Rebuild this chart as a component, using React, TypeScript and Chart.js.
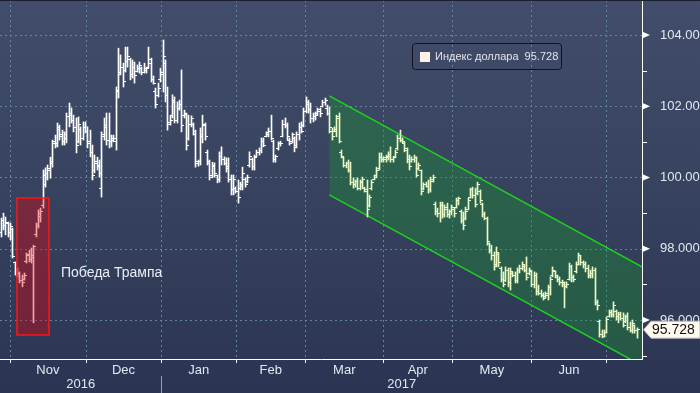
import React, { useEffect, useRef } from 'react';
import { Chart, registerables } from 'chart.js';

Chart.register(...registerables);

const FONT = '"Liberation Sans", Arial, sans-serif';

// ---- data ----
const seriesName = 'Индекс доллара';
const lastValue = 95.728;
const monthLabels = ['Nov', 'Dec', 'Jan', 'Feb', 'Mar', 'Apr', 'May', 'Jun'];
// month boundaries in bar-index units (Nov 1 ... Jul 1)
const monthBoundaries = [3.83, 36.07, 68.27, 100.21, 129.6, 162.8, 192.2, 225.9, 257.8];
const yearLabels = ['2016', '2017'];
const yearBoundary = 68.27;
const xRange = [-0.43, 272.99];
const yRange = [94.905, 104.982];
const gridValues = [96, 98, 100, 102, 104];
const channelX = [139.82, 272.99];
const channelUpper = [102.29, 97.49];
const channelLower = [99.51, 94.72];
const boxX = [6.81, 20.23];
const boxY = [95.58, 99.42];
const annotationText = 'Победа Трампа';
const annotationAt = [25.55, 97.32];

const opens = [
  98.45, 98.80, 98.65, 98.70, 98.45, 98.55, 97.60, 97.40, 97.30, 97.10,
  97.15, 97.65, 97.80, 97.70, 97.80, 98.40, 98.65, 98.90, 99.20, 99.80,
  100.00, 100.20, 100.40, 101.00, 100.95, 101.35, 101.20, 101.00, 101.10, 101.70,
  101.80, 101.60, 101.40, 101.00, 101.35, 101.10, 101.40, 101.30, 101.00, 100.70,
  100.20, 100.45, 100.35, 99.70, 101.20, 101.40, 101.05, 101.00, 101.05, 101.00,
  102.45, 102.95, 103.10, 103.00, 103.25, 103.30, 102.90, 103.10, 102.98, 103.05,
  103.05, 102.95, 103.00, 103.10, 103.20, 102.75, 102.40, 102.30, 102.75, 102.90,
  103.20, 102.30, 101.55, 101.75, 102.10, 101.60, 101.95, 102.05, 101.75, 101.78,
  101.10, 101.50, 101.50, 101.20, 100.40, 100.45, 101.15, 101.45, 100.70, 100.40,
  100.05, 100.30, 100.05, 99.95, 100.60, 100.50, 100.40, 100.30, 99.95, 99.65,
  99.70, 99.60, 99.70, 99.75, 99.95, 99.90, 100.35, 100.50, 100.30, 100.60,
  100.70, 100.75, 101.00, 101.15, 101.20, 101.30, 101.00, 100.50, 100.80, 100.95,
  101.15, 101.50, 101.45, 101.05, 101.00, 101.10, 100.90, 101.20, 101.40, 101.45,
  101.85, 102.05, 101.90, 101.65, 101.70, 101.80, 101.85, 102.00, 102.10, 101.95,
  101.80, 101.30, 101.30, 101.30, 101.70, 100.70, 100.55, 100.35, 100.40, 100.20,
  99.85, 99.80, 99.90, 99.70, 99.85, 99.70, 99.60, 99.20, 99.70, 99.95,
  100.00, 100.25, 100.55, 100.50, 100.50, 100.55, 100.60, 100.50, 100.60, 100.80,
  101.10, 101.05, 100.95, 100.75, 100.50, 100.45, 100.50, 100.55, 100.25, 100.20,
  99.70, 99.80, 99.75, 99.65, 99.95, 99.25, 99.05, 99.00, 99.20, 98.95,
  99.10, 98.95, 99.05, 99.10, 99.15, 99.35, 99.05, 98.80, 98.85, 99.10,
  99.45, 99.65, 99.50, 99.55, 99.60, 99.25, 98.95, 98.85, 98.15, 97.95,
  97.80, 97.55, 97.85, 97.45, 97.15, 97.10, 97.40, 97.05, 97.30, 97.25,
  97.10, 97.40, 97.45, 97.50, 97.40, 97.30, 97.35, 97.00, 97.25, 96.80,
  96.75, 96.70, 96.65, 96.70, 96.90, 97.25, 97.35, 97.20, 97.15, 97.05,
  97.05, 96.95, 97.15, 97.50, 97.20, 97.35, 97.55, 97.80, 97.60, 97.55,
  97.45, 97.25, 97.30, 97.40, 96.50, 95.95, 95.60, 95.55, 95.65, 96.10,
  96.20, 96.15, 96.25, 96.10, 96.15, 96.05, 95.95, 96.10, 95.80, 95.70,
  95.85, 95.70,
];

const highs = [
  98.86, 99.00, 98.89, 98.75, 98.72, 98.58, 97.63, 97.46, 97.35, 97.26,
  97.32, 97.88, 97.96, 98.02, 98.10, 98.72, 99.09, 99.14, 100.21, 100.27,
  100.35, 100.57, 101.05, 101.19, 101.53, 101.47, 101.33, 101.28, 101.81, 102.09,
  101.95, 101.75, 101.67, 101.70, 101.42, 101.56, 101.56, 101.42, 101.33, 100.91,
  100.63, 100.57, 100.49, 101.28, 101.67, 101.81, 101.81, 101.19, 101.19, 102.54,
  103.63, 103.44, 103.21, 103.66, 103.66, 103.35, 103.30, 103.24, 103.16, 103.24,
  103.10, 103.21, 103.10, 103.66, 103.35, 102.85, 102.51, 102.65, 103.07, 103.86,
  103.30, 102.54, 101.75, 102.32, 102.26, 102.12, 102.17, 103.02, 101.89, 101.81,
  101.75, 101.73, 101.53, 101.33, 100.49, 101.39, 101.75, 101.53, 100.77, 100.49,
  100.43, 100.41, 100.07, 100.72, 100.86, 100.58, 100.55, 100.55, 100.07, 100.07,
  99.73, 99.93, 99.87, 100.29, 99.99, 100.07, 100.72, 100.55, 100.63, 100.77,
  100.83, 101.11, 101.11, 101.28, 101.39, 101.75, 101.05, 100.63, 101.00, 101.02,
  101.61, 101.67, 101.53, 101.11, 101.25, 101.14, 101.28, 101.53, 101.56, 101.95,
  102.26, 102.17, 102.09, 101.81, 101.84, 101.95, 101.95, 102.17, 102.23, 102.03,
  101.98, 101.39, 101.42, 101.75, 101.81, 100.77, 100.58, 100.43, 100.49, 100.43,
  99.99, 99.93, 99.99, 99.93, 100.01, 99.73, 99.93, 99.51, 99.93, 100.07,
  100.29, 100.69, 100.69, 100.58, 100.63, 100.72, 100.86, 100.58, 100.77, 101.19,
  101.33, 101.11, 101.00, 100.83, 100.63, 100.58, 100.63, 100.58, 100.41, 100.21,
  99.85, 99.87, 99.93, 100.01, 100.07, 99.31, 99.14, 99.31, 99.31, 99.23,
  99.28, 99.09, 99.23, 99.14, 99.42, 99.45, 99.09, 99.03, 99.17, 99.42,
  99.70, 99.73, 99.70, 99.87, 99.65, 99.28, 99.03, 98.89, 98.16, 98.10,
  97.91, 98.05, 97.88, 97.49, 97.35, 97.49, 97.46, 97.46, 97.35, 97.35,
  97.46, 97.54, 97.63, 97.54, 97.77, 97.46, 97.40, 97.35, 97.32, 96.98,
  96.84, 96.76, 96.79, 96.98, 97.21, 97.49, 97.38, 97.26, 97.21, 97.12,
  97.07, 97.07, 97.60, 97.54, 97.26, 97.63, 97.88, 97.82, 97.66, 97.63,
  97.54, 97.40, 97.49, 97.46, 96.56, 96.00, 95.72, 95.72, 96.08, 96.28,
  96.28, 96.51, 96.28, 96.22, 96.22, 96.20, 96.14, 96.20, 95.94, 96.00,
  95.86, 95.78,
];

const lows = [
  98.33, 98.53, 98.39, 98.33, 98.25, 97.74, 97.26, 97.21, 97.04, 96.93,
  97.12, 97.60, 97.63, 97.60, 95.92, 98.33, 98.58, 98.75, 99.14, 99.73,
  99.93, 99.98, 100.29, 100.83, 100.86, 101.05, 100.91, 100.91, 100.97, 101.42,
  101.53, 101.28, 100.69, 100.97, 100.91, 101.05, 101.25, 100.83, 100.58, 99.93,
  100.13, 100.21, 100.01, 99.45, 101.05, 100.91, 100.83, 100.86, 101.00, 100.77,
  102.23, 102.88, 102.54, 102.96, 103.10, 102.74, 102.79, 102.65, 102.96, 102.93,
  102.88, 102.93, 102.93, 103.07, 102.68, 102.62, 101.95, 102.26, 102.68, 102.40,
  102.12, 101.33, 101.47, 101.67, 101.53, 101.53, 101.89, 101.28, 101.67, 100.77,
  101.05, 101.42, 101.19, 100.29, 100.32, 100.35, 100.97, 101.05, 100.35, 99.93,
  99.99, 100.01, 99.85, 99.87, 100.35, 100.35, 100.15, 99.87, 99.51, 99.51,
  99.56, 99.28, 99.65, 99.65, 99.73, 99.85, 100.29, 100.21, 100.21, 100.58,
  100.63, 100.69, 100.86, 101.14, 101.14, 101.05, 100.43, 100.43, 100.77, 100.88,
  101.14, 101.39, 101.05, 100.91, 100.97, 100.72, 100.83, 101.05, 101.25, 101.42,
  101.81, 101.81, 101.53, 101.56, 101.61, 101.75, 101.70, 101.98, 102.03, 101.75,
  101.25, 101.05, 101.28, 101.14, 100.97, 100.55, 100.29, 100.27, 100.15, 99.79,
  99.70, 99.73, 99.65, 99.65, 99.70, 99.59, 98.89, 99.17, 99.65, 99.93,
  99.99, 100.21, 100.43, 100.43, 100.43, 100.49, 100.43, 100.43, 100.55, 100.77,
  101.00, 100.97, 100.72, 100.41, 100.21, 100.43, 100.43, 100.01, 100.21, 99.51,
  99.65, 99.73, 99.56, 99.59, 99.87, 98.95, 98.89, 98.75, 98.86, 98.89,
  98.89, 98.86, 98.95, 98.89, 99.14, 99.23, 98.72, 98.53, 98.81, 99.09,
  99.42, 99.42, 99.17, 99.51, 99.28, 98.89, 98.81, 98.10, 97.88, 97.68,
  97.40, 97.49, 97.49, 97.07, 96.93, 97.08, 96.93, 96.84, 97.21, 97.04,
  97.04, 97.32, 97.40, 97.35, 97.12, 97.26, 96.93, 96.90, 96.70, 96.70,
  96.64, 96.56, 96.62, 96.56, 96.70, 97.21, 97.18, 97.07, 96.98, 96.93,
  96.34, 96.90, 97.12, 97.07, 97.07, 97.32, 97.54, 97.54, 97.46, 97.35,
  97.18, 97.18, 97.18, 96.42, 96.28, 95.52, 95.50, 95.52, 95.63, 96.08,
  96.08, 96.08, 96.00, 95.92, 96.00, 95.80, 95.92, 95.72, 95.66, 95.63,
  95.63, 95.49,
];

const closes = [
  98.80, 98.65, 98.75, 98.45, 98.62, 97.78, 97.40, 97.30, 97.10, 97.05,
  97.25, 97.85, 97.70, 97.75, 98.05, 98.65, 99.00, 99.05, 100.05, 100.10,
  100.25, 100.45, 100.95, 100.90, 101.40, 101.15, 101.00, 101.20, 101.70, 101.75,
  101.60, 101.40, 100.90, 101.50, 101.10, 101.40, 101.30, 100.95, 100.70, 100.05,
  100.40, 100.30, 100.10, 101.15, 101.45, 101.05, 101.00, 101.10, 101.10, 102.40,
  102.90, 103.10, 102.70, 103.25, 103.40, 102.90, 103.10, 102.85, 103.05, 103.15,
  102.95, 103.05, 103.05, 103.30, 102.75, 102.65, 102.05, 102.50, 102.95, 103.40,
  102.30, 101.50, 101.60, 102.15, 101.60, 101.95, 102.05, 101.45, 101.80, 100.90,
  101.50, 101.65, 101.30, 100.45, 100.45, 101.20, 101.50, 101.15, 100.45, 100.00,
  100.35, 100.10, 99.95, 100.60, 100.50, 100.40, 100.25, 99.95, 99.65, 99.95,
  99.60, 99.45, 99.80, 100.10, 99.80, 100.00, 100.60, 100.30, 100.55, 100.70,
  100.75, 101.00, 100.90, 101.25, 101.30, 101.10, 100.50, 100.60, 100.95, 100.95,
  101.50, 101.45, 101.15, 100.95, 101.20, 100.85, 101.20, 101.40, 101.30, 101.85,
  102.10, 101.90, 101.65, 101.70, 101.75, 101.90, 101.80, 102.10, 102.15, 101.80,
  101.40, 101.15, 101.35, 101.65, 101.00, 100.60, 100.35, 100.40, 100.20, 99.85,
  99.80, 99.90, 99.70, 99.90, 99.95, 99.65, 99.10, 99.45, 99.85, 100.05,
  100.20, 100.55, 100.50, 100.55, 100.60, 100.65, 100.50, 100.55, 100.70, 101.10,
  101.05, 101.00, 100.80, 100.50, 100.30, 100.50, 100.55, 100.05, 100.35, 99.60,
  99.80, 99.75, 99.65, 99.90, 100.00, 99.05, 99.00, 99.20, 98.95, 99.15,
  98.95, 99.05, 99.15, 99.00, 99.35, 99.40, 98.80, 98.65, 99.05, 99.35,
  99.65, 99.50, 99.25, 99.80, 99.35, 98.95, 98.85, 98.20, 97.95, 97.80,
  97.50, 97.90, 97.60, 97.15, 97.00, 97.40, 97.05, 97.35, 97.25, 97.10,
  97.40, 97.45, 97.55, 97.40, 97.20, 97.40, 97.00, 97.25, 96.80, 96.75,
  96.70, 96.60, 96.75, 96.90, 97.15, 97.40, 97.25, 97.15, 97.05, 97.00,
  96.95, 97.00, 97.50, 97.20, 97.15, 97.55, 97.80, 97.60, 97.55, 97.45,
  97.25, 97.30, 97.40, 96.50, 96.40, 95.60, 95.55, 95.65, 96.00, 96.20,
  96.15, 96.40, 96.10, 96.15, 96.05, 95.85, 96.10, 95.80, 95.70, 95.90,
  95.70, 95.728,
];

// ---- styles ----
const WHITE = '#ffffff';
const GREEN_BAR = '#e6f9c6';
const GRID = '#6183a6';
const CHANNEL_LINE = '#1ed21e';
const CHANNEL_FILL = 'rgba(25,150,45,0.37)';
const TEXT = '#e2e8f1';

export default function App() {
  const ref = useRef<HTMLCanvasElement>(null);

  useEffect(() => {
    document.body.style.margin = '0';
    const canvas = ref.current;
    if (!canvas) return;

    const drawGrid = (chart: any) => {
      const { ctx, chartArea: a } = chart;
      const xs = chart.scales.x;
      const ys = chart.scales.y;
      ctx.save();
      ctx.fillStyle = GRID;
      // dotted lines drawn as small dashes (2 on, 3 off)
      for (const v of monthBoundaries) {
        const x = Math.round(xs.getPixelForValue(v));
        for (let y = a.top; y < a.bottom; y += 5) ctx.fillRect(x, y, 1, 2);
      }
      for (const v of gridValues) {
        const y = Math.round(ys.getPixelForValue(v));
        for (let x = a.left; x < a.right; x += 5) ctx.fillRect(x, y, 2, 1);
      }
      ctx.restore();
    };

    const decor = {
      id: 'decor',
      afterDatasetsUpdate(chart: any) {
        // snap the 1px high-low bars to the pixel grid
        const meta = chart.getDatasetMeta(0);
        meta.data.forEach((el: any) => {
          el.x = Math.floor(el.x) + 0.5;
        });
      },
      beforeDatasetsDraw(chart: any) {
        drawGrid(chart);
      },
      afterDatasetsDraw(chart: any) {
        const { ctx, chartArea: a } = chart;
        const xs = chart.scales.x;
        const ys = chart.scales.y;
        ctx.save();
        ctx.beginPath();
        ctx.rect(a.left, a.top, a.right - a.left, a.bottom - a.top);
        ctx.clip();
        // open / close ticks
        for (let i = 0; i < opens.length; i++) {
          const px = Math.floor(xs.getPixelForValue(i));
          ctx.fillStyle = i >= channelX[0] ? GREEN_BAR : WHITE;
          const yo = Math.floor(ys.getPixelForValue(opens[i]));
          const yc = Math.floor(ys.getPixelForValue(closes[i]));
          ctx.fillRect(px - 2, yo, 2, 1);
          ctx.fillRect(px + 1, yc, 2, 1);
        }
        // election box
        const bx0 = Math.round(xs.getPixelForValue(boxX[0]));
        const bx1 = Math.round(xs.getPixelForValue(boxX[1]));
        const by0 = Math.round(ys.getPixelForValue(boxY[1]));
        const by1 = Math.round(ys.getPixelForValue(boxY[0]));
        ctx.fillStyle = 'rgba(230,0,12,0.37)';
        ctx.fillRect(bx0, by0, bx1 - bx0, by1 - by0);
        ctx.strokeStyle = '#ff1414';
        ctx.lineWidth = 1.5;
        ctx.strokeRect(bx0, by0, bx1 - bx0, by1 - by0);
        // annotation
        ctx.fillStyle = '#e8eef7';
        ctx.font = `14px ${FONT}`;
        ctx.textAlign = 'left';
        ctx.textBaseline = 'middle';
        ctx.fillText(annotationText, xs.getPixelForValue(annotationAt[0]), ys.getPixelForValue(annotationAt[1]));
        ctx.restore();
      },
      afterDraw(chart: any) {
        const { ctx, chartArea: a } = chart;
        const xs = chart.scales.x;
        const ys = chart.scales.y;
        ctx.save();
        // top border
        ctx.fillStyle = '#1b2030';
        ctx.fillRect(0, 0, chart.width, 1);
        // x tick marks
        ctx.fillStyle = WHITE;
        for (const v of monthBoundaries) {
          const x = Math.round(xs.getPixelForValue(v));
          ctx.fillRect(x, a.bottom, 1, 4);
        }
        // y tick marks: minor lines, major arrows
        for (const t of ys.ticks) {
          const y = ys.getPixelForValue(t.value);
          if (Math.round(t.value) % 2 !== 0) {
            ctx.fillRect(a.right, Math.round(y), 5, 1);
          } else {
            ctx.beginPath();
            ctx.moveTo(a.right, y - 3.5);
            ctx.lineTo(a.right + 8, y);
            ctx.lineTo(a.right, y + 3.5);
            ctx.closePath();
            ctx.fill();
          }
        }
        // month labels
        ctx.fillStyle = TEXT;
        ctx.font = `13px ${FONT}`;
        ctx.textAlign = 'center';
        ctx.textBaseline = 'middle';
        for (let k = 0; k < monthLabels.length; k++) {
          const x0 = xs.getPixelForValue(monthBoundaries[k]);
          const x1 = xs.getPixelForValue(monthBoundaries[k + 1]);
          ctx.fillText(monthLabels[k], (x0 + x1) / 2, a.bottom + 11);
        }
        // year labels
        const yb = xs.getPixelForValue(yearBoundary);
        ctx.fillText(yearLabels[0], (a.left + yb) / 2, a.bottom + 25.5);
        ctx.fillText(yearLabels[1], (yb + a.right) / 2, a.bottom + 25.5);
        ctx.strokeStyle = '#9aa3b6';
        ctx.lineWidth = 1;
        ctx.beginPath();
        ctx.moveTo(Math.round(yb) + 0.5, a.bottom + 17);
        ctx.lineTo(Math.round(yb) + 0.5, chart.height);
        ctx.stroke();
        // legend
        ctx.strokeStyle = '#0f131b';
        ctx.lineWidth = 1;
        ctx.beginPath();
        (ctx as any).roundRect(412.5, 43.5, 149, 26, 3);
        ctx.stroke();
        ctx.fillStyle = '#fff1e8';
        ctx.fillRect(420, 52, 10, 10);
        ctx.fillStyle = '#e4e4e8';
        ctx.font = `11px ${FONT}`;
        ctx.textAlign = 'left';
        ctx.textBaseline = 'middle';
        ctx.fillText(`${seriesName}  ${lastValue.toFixed(3)}`, 435, 57);
        // last price label
        const yc = ys.getPixelForValue(lastValue);
        ctx.fillStyle = '#fff9f0';
        ctx.strokeStyle = '#b8b8b8';
        ctx.beginPath();
        ctx.moveTo(a.right + 1.5, yc);
        ctx.lineTo(a.right + 9, yc - 8.5);
        ctx.lineTo(chart.width, yc - 8.5);
        ctx.lineTo(chart.width, yc + 8.5);
        ctx.lineTo(a.right + 9, yc + 8.5);
        ctx.closePath();
        ctx.fill();
        ctx.stroke();
        ctx.fillStyle = '#111111';
        ctx.font = `14px ${FONT}`;
        ctx.fillText(lastValue.toFixed(3), a.right + 10, yc + 0.5);
        ctx.restore();
      },
    };

    const chart = new Chart(canvas, {
      type: 'bar',
      data: {
        datasets: [
          {
            type: 'bar',
            label: seriesName,
            data: highs.map((h, i) => ({ x: i, y: [lows[i], h] })) as any,
            backgroundColor: (c: any) => (c.dataIndex >= channelX[0] ? GREEN_BAR : WHITE),
            barThickness: 1,
            borderWidth: 0,
            grouped: false,
            order: 0,
          },
          {
            type: 'line',
            label: 'upper',
            data: [
              { x: channelX[0], y: channelUpper[0] },
              { x: channelX[1], y: channelUpper[1] },
            ],
            borderColor: CHANNEL_LINE,
            borderWidth: 1.5,
            pointRadius: 0,
            fill: false,
            order: 5,
          },
          {
            type: 'line',
            label: 'lower',
            data: [
              { x: channelX[0], y: channelLower[0] },
              { x: channelX[1], y: channelLower[1] },
            ],
            borderColor: CHANNEL_LINE,
            backgroundColor: CHANNEL_FILL,
            borderWidth: 1.5,
            pointRadius: 0,
            fill: '-1',
            order: 5,
          },
        ] as any,
      },
      options: {
        responsive: false,
        animation: false,
        devicePixelRatio: 1,
        layout: { padding: 0 },
        plugins: { legend: { display: false }, tooltip: { enabled: false } },
        scales: {
          x: {
            type: 'linear',
            min: xRange[0],
            max: xRange[1],
            offset: false,
            afterBuildTicks: (s: any) => {
              s.ticks = monthBoundaries.map((v) => ({ value: v }));
            },
            afterFit: (s: any) => {
              s.height = 34;
              s.paddingLeft = 0;
              s.paddingRight = 0;
            },
            ticks: { display: false },
            grid: { display: false, offset: false },
            border: { display: true, color: WHITE, width: 1 },
          },
          y: {
            type: 'linear',
            position: 'right',
            min: yRange[0],
            max: yRange[1],
            afterFit: (s: any) => {
              s.width = 58;
              s.paddingTop = 0;
              s.paddingBottom = 0;
            },
            ticks: {
              stepSize: 1,
              includeBounds: false,
              padding: 10,
              color: TEXT,
              font: { size: 13, family: FONT },
              callback: (v: any) => (Math.round(v) % 2 === 0 ? Number(v).toFixed(3) : ''),
            },
            grid: { display: false },
            border: { display: true, color: WHITE, width: 1 },
          },
        },
      } as any,
      plugins: [decor],
    });

    return () => chart.destroy();
  }, []);

  return (
    <div
      style={{
        width: 700,
        height: 393,
        background: 'linear-gradient(to bottom, #414d6a 0%, #38435f 45%, #2b3553 100%)',
      }}
    >
      <canvas ref={ref} width={700} height={393} style={{ display: 'block' }} />
    </div>
  );
}
